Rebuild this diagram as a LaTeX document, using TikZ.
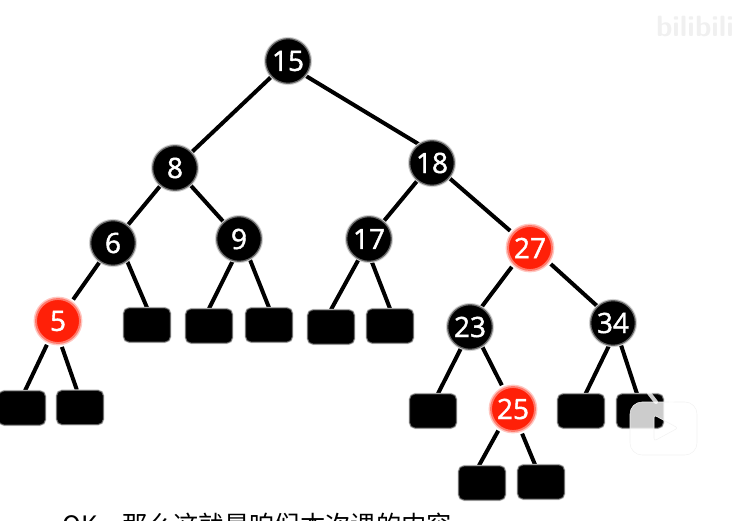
\documentclass[tikz,border=0pt]{standalone}
\usepackage{fontspec}
\setmainfont{Open Sans}
\newfontfamily\cjk{Noto Sans CJK SC}
\newfontfamily\numfont[FakeBold=1.5]{Open Sans}
\usetikzlibrary{backgrounds}

\definecolor{nodered}{RGB}{255,32,8}

\begin{document}
\begin{tikzpicture}[
    x=0.75pt, y=-0.75pt,
    blacknode/.style={circle, fill=black, preaction={draw=black!18, line width=2.6pt}, draw=black!60, line width=0.9pt, inner sep=0pt, minimum size=33.5pt, text=white, font=\numfont\fontsize{21}{21}\selectfont},
    rednode/.style={circle, fill=nodered, preaction={draw=nodered!25, line width=3.6pt}, draw=nodered!60, line width=1.4pt, inner sep=0pt, minimum size=33pt, text=white, font=\numfont\fontsize{21}{21}\selectfont},
    leaf/.style={rectangle, fill=black, preaction={draw=black!20, line width=1.6pt}, draw=black!60, line width=0.6pt, rounded corners=4pt, inner sep=0pt, minimum width=35pt, minimum height=25.5pt},
    link/.style={line width=3pt},
    redlink/.style={link, shorten <=2.5pt},
    linkred/.style={link, shorten >=2.5pt}
]
\clip (0,0) rectangle (732,521);

% Tree Nodes
\node [blacknode] (n15) at (288,61) {15};
\node [blacknode] (n8) at (175,168) {8};
\node [blacknode] (n18) at (432,163) {18};
\node [blacknode] (n6) at (113,243) {6};
\node [blacknode] (n9) at (239,239) {9};
\node [blacknode] (n17) at (369,239) {17};
\node [rednode] (n27) at (530,248) {27};
\node [rednode] (n5) at (58,321) {5};
\node [blacknode] (n23) at (470,327) {23};
\node [blacknode] (n34) at (613,323) {34};
\node [rednode] (n25) at (513,409) {25};

% Leaf Boxes
\node [leaf] (a) at (147,325) {};
\node [leaf] (b) at (209,326) {};
\node [leaf] (c) at (269,325) {};
\node [leaf] (d) at (331,327) {};
\node [leaf] (e) at (390,326) {};
\node [leaf] (f) at (22,408) {};
\node [leaf] (g) at (80,407.5) {};
\node [leaf] (h) at (433,411) {};
\node [leaf] (i) at (581,411) {};
\node [leaf] (j) at (640,411) {};
\node [leaf] (k) at (482,483) {};
\node [leaf] (l) at (541,482) {};

% Connections
\begin{scope}[on background layer]
\draw [link] (n15) -- (n8);
\draw [link] (n15.-40) -- (n18.125);
\draw [link] (n8) -- (n6);
\draw [link] (n8) -- (n9);
\draw [link] (n18) -- (n17);
\draw [linkred] (n18) -- (n27);
\draw [linkred] (n6) -- (n5);
\draw [link] (n6.-52) -- (a.north);
\draw [link] (n9.-106) -- (b.north);
\draw [link] (n9.-62) -- (c.north);
\draw [link] (n17.-117) -- (d.north);
\draw [link] (n17.-83) -- (e.north);
\draw [redlink] (n27.-135) -- (n23.60);
\draw [redlink] (n27.-37) -- (n34.133);
\draw [redlink] (n5.-115) -- (f.80);
\draw [redlink] (n5.-83) -- (g.100);
\draw [link] (n23.-113) -- (h.74);
\draw [linkred] (n23.-58) -- (n25.115);
\draw [link] (n34.-100) -- (i.75);
\draw [link] (n34.-70) -- (j.100);
\draw [redlink] (n25.-125) -- (k.100);
\draw [redlink] (n25.-70) -- (l.109);
\end{scope}

% Caption and Overlay
\node [font=\cjk\fontsize{19}{19}\selectfont, anchor=west, inner sep=0pt] (caption) at (62,525) {OK，那么这就是咱们本次课的内容};
\node [font=\sffamily\bfseries\fontsize{22}{22}\selectfont, text=black!6, anchor=center, inner sep=0pt] (logo) at (695,26) {bilibili};

\fill [white, opacity=.8, even odd rule, rounded corners=9pt]
    (630,402) rectangle (697,455)
    [rounded corners=2pt] (654,415) -- (678,428) -- (654,441) -- cycle;
\draw [black!5, line width=0.4pt, rounded corners=9pt] (630,402) rectangle (697,455);
\draw [black!5, line width=0.4pt, rounded corners=2pt] (654,415) -- (678,428) -- (654,441) -- cycle;
\draw [white, opacity=.8, line width=3pt, line cap=round] (649,393) -- (656,402);
\draw [white, opacity=.8, line width=3pt, line cap=round] (678,393) -- (671,402);

\end{tikzpicture}
\end{document}
